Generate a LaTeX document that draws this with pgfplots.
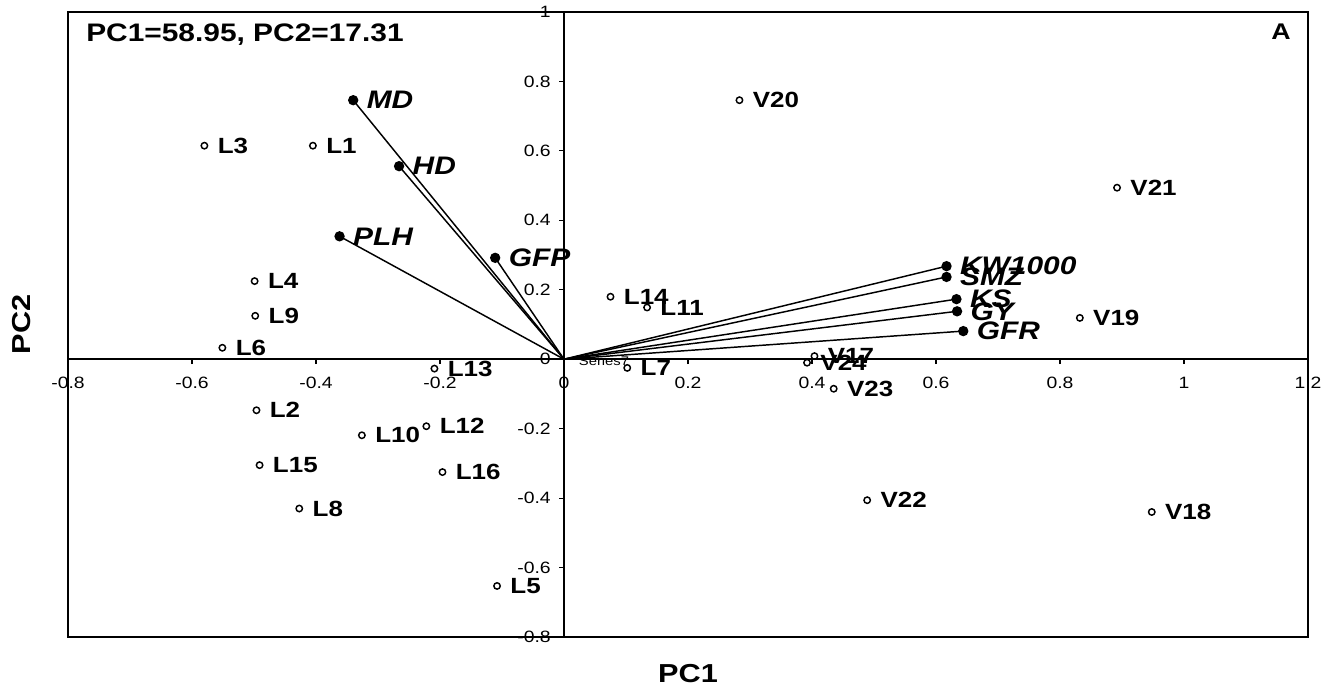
\documentclass[border=0pt]{standalone}
\usepackage{fontspec}
\setmainfont{Liberation Sans}[FakeStretch=1.18]
\usepackage{pgfplots}
\usepackage{pgfplotstable}
\pgfplotsset{compat=1.18}

\pgfplotstableread{
x y label
-0.405 0.615 L1
-0.496 -0.147 L2
-0.580 0.615 L3
-0.499 0.225 L4
-0.108 -0.653 L5
-0.551 0.033 L6
0.102 -0.025 L7
-0.427 -0.430 L8
-0.498 0.125 L9
-0.326 -0.219 L10
0.134 0.149 L11
-0.222 -0.193 L12
-0.209 -0.027 L13
0.075 0.180 L14
-0.491 -0.305 L15
-0.196 -0.325 L16
0.404 0.009 V17
0.948 -0.440 V18
0.832 0.119 V19
0.283 0.746 V20
0.892 0.494 V21
0.489 -0.406 V22
0.435 -0.085 V23
0.392 -0.010 V24
}\obs

\begin{document}
\begin{tikzpicture}
\path[use as bounding box] (-51pt,-37.5pt) rectangle (940.5pt,477.75pt);
\begin{axis}[
  at={(0,0)}, anchor=south west,
  scale only axis, width=930pt, height=468.75pt,
  xmin=-0.8, xmax=1.2, ymin=-0.8, ymax=1,
  axis lines=middle,
  axis line style={-, line width=1.1pt},
  hide obscured x ticks=false, hide obscured y ticks=false,
  xtick={-0.8,-0.6,...,1.2}, ytick={-0.8,-0.6,...,1},
  xticklabels={-0.8,-0.6,-0.4,-0.2,0,0.2,0.4,0.6,0.8,1,1.2},
  yticklabels={-0.8,-0.6,-0.4,-0.2,0,0.2,0.4,0.6,0.8,1},
  tick align=outside, major tick length=3.75pt,
  tick style={line width=0.9pt, black},
  /pgf/number format/assume math mode=true,
  ticklabel style={font=\fontsize{12.3}{14}\selectfont, inner sep=0pt},
  xticklabel style={anchor=center, yshift=-14pt},
  yticklabel style={anchor=east, xshift=-6pt},
  clip=false,
]
\draw[line width=1.1pt] (rel axis cs:0,0) rectangle (rel axis cs:1,1);

% vectors
\addplot[black, line width=1.1pt, mark=*, mark indices={2}, mark size=3.3pt] coordinates {(0,0) (-0.340,0.746)};
\addplot[black, line width=1.1pt, mark=*, mark indices={2}, mark size=3.3pt] coordinates {(0,0) (-0.266,0.556)};
\addplot[black, line width=1.1pt, mark=*, mark indices={2}, mark size=3.3pt] coordinates {(0,0) (-0.362,0.354)};
\addplot[black, line width=1.1pt, mark=*, mark indices={2}, mark size=3.3pt] coordinates {(0,0) (-0.111,0.292)};
\addplot[black, line width=1.1pt, mark=*, mark indices={2}, mark size=3.3pt] coordinates {(0,0) (0.617,0.268)};
\addplot[black, line width=1.1pt, mark=*, mark indices={2}, mark size=3.3pt] coordinates {(0,0) (0.617,0.237)};
\addplot[black, line width=1.1pt, mark=*, mark indices={2}, mark size=3.3pt] coordinates {(0,0) (0.633,0.173)};
\addplot[black, line width=1.1pt, mark=*, mark indices={2}, mark size=3.3pt] coordinates {(0,0) (0.634,0.138)};
\addplot[black, line width=1.1pt, mark=*, mark indices={2}, mark size=3.3pt] coordinates {(0,0) (0.644,0.081)};

% vector labels
\addplot[only marks, mark=none, nodes near coords, point meta=explicit symbolic,
  every node near coord/.style={anchor=west, xshift=10pt, inner sep=0pt, font=\fontsize{19}{21}\selectfont\bfseries\itshape}]
  table[meta=label] {
x y label
-0.340 0.746 MD
-0.266 0.556 HD
-0.362 0.354 PLH
-0.111 0.292 GFP
0.617 0.268 KW1000
0.617 0.237 SMZ
0.633 0.173 KS
0.634 0.138 GY
0.644 0.081 GFR
};

% Series7 origin label
\addplot[only marks, mark=none, nodes near coords, point meta=explicit symbolic,
  every node near coord/.style={anchor=west, xshift=11pt, yshift=-1.2pt, inner sep=0pt, font=\fontsize{9.4}{11}\selectfont}]
  table[meta=label] {
x y label
0 0 Series7
};

% observations
\addplot[only marks, mark=o, mark size=2.4pt, mark options={line width=1.1pt, fill=white}, black,
  nodes near coords, point meta=explicit symbolic,
  every node near coord/.style={anchor=west, xshift=9.5pt, inner sep=0pt, font=\fontsize{16.5}{19}\selectfont\bfseries}]
  table[meta=label] {\obs};

\node[anchor=west, inner sep=0pt, font=\fontsize{19}{22}\selectfont\bfseries] at ([xshift=13.5pt, yshift=-17pt]rel axis cs:0,1) {PC1=58.95, PC2=17.31};
\node[anchor=east, inner sep=0pt, font=\fontsize{17}{20}\selectfont\bfseries] at ([xshift=-12.75pt, yshift=-15pt]rel axis cs:1,1) {A};
\node[font=\fontsize{19.5}{22}\selectfont\bfseries, inner sep=0pt] at ([yshift=-27.75pt]rel axis cs:0.5,0) {PC1};
\node[font=\fontsize{19.5}{22}\selectfont\bfseries, inner sep=0pt, rotate=90] at ([xshift=-34.5pt]rel axis cs:0,0.5) {PC2};
\end{axis}
\end{tikzpicture}
\end{document}
